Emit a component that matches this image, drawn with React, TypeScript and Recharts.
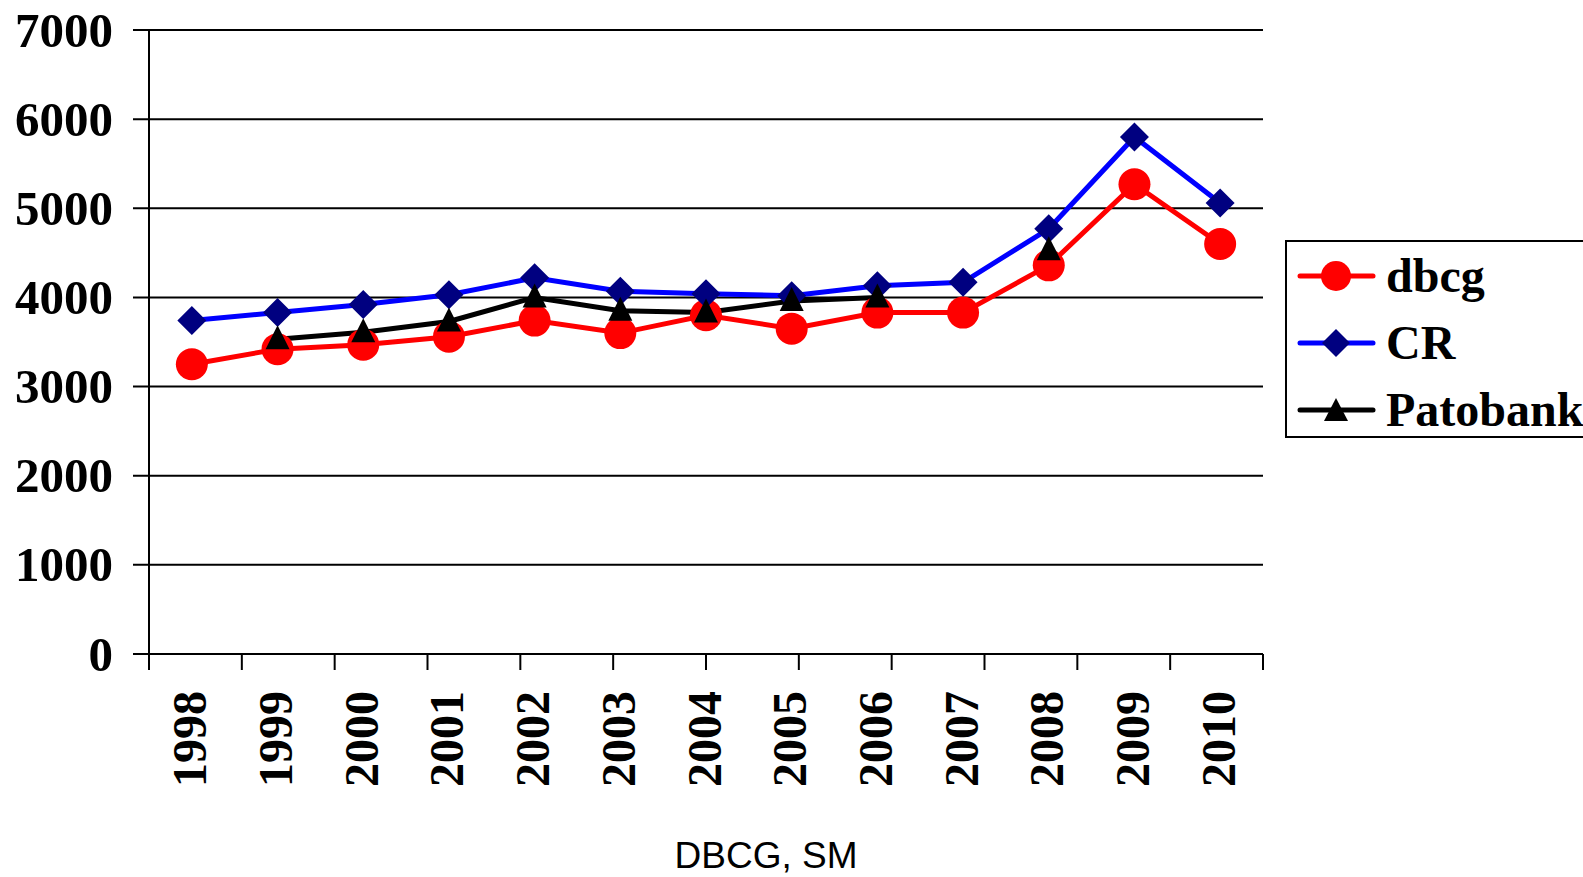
import React from "react";
import {
  ComposedChart, Line, XAxis, YAxis, CartesianGrid, Legend, ReferenceLine
} from "recharts";

const years = ["1998", "1999", "2000", "2001", "2002", "2003", "2004", "2005", "2006", "2007", "2008", "2009", "2010"];
const dbcgValues = [3250, 3420, 3470, 3560, 3740, 3600, 3800, 3650, 3830, 3830, 4360, 5270, 4600];
const crValues = [3740, 3830, 3920, 4030, 4220, 4070, 4040, 4020, 4130, 4170, 4770, 5800, 5060];
const patobankValues = [null, 3530, 3610, 3730, 4000, 3850, 3830, 3960, 4000, null, 4530, null, null];
const yTicks = [0, 1000, 2000, 3000, 4000, 5000, 6000, 7000];
const edgeTicks = [0, 1, 2, 3, 4, 5, 6, 7, 8, 9, 10, 11, 12, 13];
const seriesNames = ["dbcg", "CR", "Patobank"];
const xTitle = "DBCG, SM";

const data = years.map((year, i) => ({
  year,
  dbcg: dbcgValues[i],
  CR: crValues[i],
  Patobank: patobankValues[i],
}));

const serif = "'Liberation Serif', 'Times New Roman', serif";
const TICK_LEN = 16;
const Y_GAP = 20;
const PLOT_LEFT = 149;
const PLOT_RIGHT = 1263;

// markers
const RedCircle = (props: any) => {
  const { cx, cy, index } = props;
  if (cx == null || cy == null) return <g key={index} />;
  return <circle key={index} cx={cx} cy={cy} r={16} fill="#FF0000" />;
};

const NavyDiamond = (props: any) => {
  const { cx, cy, index } = props;
  if (cx == null || cy == null) return <g key={index} />;
  const s = 14.5;
  return (
    <polygon
      key={index}
      points={`${cx},${cy - s} ${cx + s},${cy} ${cx},${cy + s} ${cx - s},${cy}`}
      fill="#000080"
    />
  );
};

const BlackTriangle = (props: any) => {
  const { cx, cy, index } = props;
  if (cx == null || cy == null) return <g key={index} />;
  return (
    <polygon
      key={index}
      points={`${cx},${cy - 14} ${cx + 12},${cy + 10} ${cx - 12},${cy + 10}`}
      fill="#000000"
    />
  );
};

const YearTick = (props: any) => {
  const { x, y, payload } = props;
  return (
    <text
      x={x - 2}
      y={y}
      transform={`rotate(-90, ${x - 2}, ${y})`}
      textAnchor="end"
      dominantBaseline="central"
      fontFamily={serif}
      fontWeight="bold"
      fontSize={48}
      fill="#000"
    >
      {payload.value}
    </text>
  );
};

const ValueTick = (props: any) => {
  const { x, y, payload } = props;
  return (
    <text
      x={x}
      y={y}
      textAnchor="end"
      dominantBaseline="central"
      fontFamily={serif}
      fontWeight="bold"
      fontSize={49}
      fill="#000"
    >
      {payload.value}
    </text>
  );
};

const bottomTick = (p: any) => {
  const x = p.x1 ?? p.x;
  const y = Math.max(p.y1 ?? 0, p.y2 ?? 0);
  return <line x1={x} x2={x} y1={y} y2={y + TICK_LEN} stroke="#000" strokeWidth={2} />;
};

const legendMarker = (name: string) => {
  if (name === "dbcg") {
    return (
      <>
        <line x1={15} x2={88} y1={30} y2={30} stroke="#FF0000" strokeWidth={5} strokeLinecap="round" />
        <circle cx={51} cy={30} r={15} fill="#FF0000" />
      </>
    );
  }
  if (name === "CR") {
    return (
      <>
        <line x1={15} x2={88} y1={30} y2={30} stroke="#0000FF" strokeWidth={5} strokeLinecap="round" />
        <polygon points="51,16 65,30 51,44 37,30" fill="#000080" />
      </>
    );
  }
  return (
    <>
      <line x1={15} x2={88} y1={30} y2={30} stroke="#000000" strokeWidth={5} strokeLinecap="round" />
      <polygon points="51,18 63,41 39,41" fill="#000000" />
    </>
  );
};

const renderLegend = () => (
  <div
    style={{
      position: "relative",
      width: 320,
      height: 198,
      boxSizing: "border-box",
      border: "2px solid #000",
      background: "#fff",
    }}
  >
    {seriesNames.map((name, i) => (
      <div
        key={name}
        style={{
          position: "absolute",
          left: -2,
          top: 4 + i * 67,
          height: 60,
          display: "flex",
          alignItems: "center",
        }}
      >
        <svg width={101} height={60}>{legendMarker(name)}</svg>
        <span
          style={{
            fontFamily: serif,
            fontWeight: "bold",
            fontSize: 48,
            lineHeight: "60px",
            color: "#000",
            whiteSpace: "nowrap",
          }}
        >
          {name}
        </span>
      </div>
    ))}
  </div>
);

const App: React.FC = () => {
  return (
    <div
      style={{
        position: "absolute",
        left: 0,
        top: 0,
        width: 1583,
        height: 877,
        overflow: "hidden",
        background: "#fff",
      }}
    >
      <ComposedChart
        width={1583}
        height={877}
        data={data}
        margin={{ top: 30, right: 1583 - PLOT_RIGHT, left: 0, bottom: 83 }}
        style={{ overflow: "visible" }}
      >
        {/* grid lines start left of the axis so they double as the y tick marks */}
        <CartesianGrid
          vertical={false}
          stroke="#000"
          strokeWidth={2}
          x={PLOT_LEFT - TICK_LEN}
          width={PLOT_RIGHT - PLOT_LEFT + TICK_LEN}
        />
        <XAxis
          xAxisId={0}
          type="number"
          domain={[0, 13]}
          ticks={edgeTicks}
          tick={false}
          tickLine={false}
          height={0}
          axisLine={{ stroke: "#000", strokeWidth: 2 }}
          allowDataOverflow
        />
        <XAxis
          xAxisId="lab"
          dataKey="year"
          type="category"
          scale="band"
          interval={0}
          axisLine={false}
          tickLine={false}
          tickSize={0}
          tickMargin={37}
          height={140}
          tick={<YearTick />}
        />
        <YAxis
          domain={[0, 7000]}
          ticks={yTicks}
          interval={0}
          width={PLOT_LEFT}
          tickSize={TICK_LEN}
          tickMargin={Y_GAP}
          tickLine={false}
          axisLine={{ stroke: "#000", strokeWidth: 2 }}
          tick={<ValueTick />}
        />
        <ReferenceLine xAxisId={0} x={13} stroke="#000" strokeWidth={2} />
        {edgeTicks.map((t) => (
          <ReferenceLine key={`xt${t}`} xAxisId={0} x={t} shape={bottomTick} />
        ))}
        <Legend
          layout="vertical"
          align="center"
          verticalAlign="middle"
          content={renderLegend}
          wrapperStyle={{ left: 1285, top: 240, width: 320, height: 198 }}
        />
        <Line
          xAxisId="lab"
          dataKey="dbcg"
          stroke="#FF0000"
          strokeWidth={5}
          dot={RedCircle}
          activeDot={false}
          isAnimationActive={false}
        />
        <Line
          xAxisId="lab"
          dataKey="CR"
          stroke="#0000FF"
          strokeWidth={5}
          dot={NavyDiamond}
          activeDot={false}
          isAnimationActive={false}
        />
        <Line
          xAxisId="lab"
          dataKey="Patobank"
          stroke="#000000"
          strokeWidth={5}
          dot={BlackTriangle}
          activeDot={false}
          isAnimationActive={false}
        />
      </ComposedChart>
      <div
        style={{
          position: "absolute",
          left: 566,
          width: 400,
          top: 832,
          textAlign: "center",
          fontFamily: "'Liberation Sans', Arial, sans-serif",
          fontSize: 37,
          lineHeight: "48px",
          color: "#000",
        }}
      >
        {xTitle}
      </div>
    </div>
  );
};

export default App;
